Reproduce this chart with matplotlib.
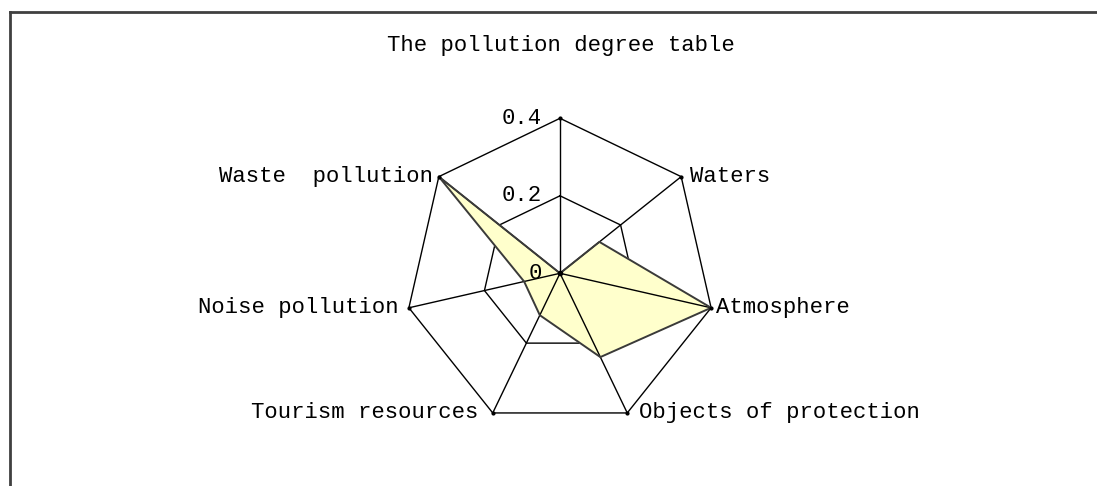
import numpy as np
import matplotlib
matplotlib.use("Agg")
import matplotlib.pyplot as plt
from matplotlib.lines import Line2D

# data (clockwise from the top axis)
categories = ["", "Waters", "Atmosphere", "Objects of protection",
              "Tourism resources", "Noise pollution", "Waste  pollution"]
values = [0.0, 0.13, 0.40, 0.24, 0.12, 0.095, 0.40]
ring_levels = [0.2, 0.4]
tick_values = [0, 0.2, 0.4]
tick_labels = ["0", "0.2", "0.4"]
title = "The pollution degree table"

plt.rcParams['font.family'] = ['Liberation Mono', 'DejaVu Sans Mono']
FS = 16

W, H = 1097, 486
cx, cy = 560, 273.3      # centre of the radar, px from top-left
R = 155.0                # px for the outer ring (0.4)
s = 0.4 / R

fig = plt.figure(figsize=(W / 100, H / 100), dpi=100)
ax = fig.add_axes([0, 0, 1, 1])
ax.set_xlim(-cx * s, (W - cx) * s)
ax.set_ylim(-(H - cy) * s, cy * s)
ax.axis('off')

n = len(categories)
ang = np.pi / 2 - 2 * np.pi * np.arange(n) / n
ux, uy = np.cos(ang), np.sin(ang)
closed = list(range(n)) + [0]

# inner ring sits under the fill, outer ring and spokes above it
inner, outer = ring_levels
ax.plot(inner * ux[closed], inner * uy[closed], color='black', lw=1, zorder=1)

v = np.array(values)
ax.fill(v * ux, v * uy, color='#FFFFCC', zorder=2)

for i in range(n):
    ax.plot([0, outer * ux[i]], [0, outer * uy[i]], color='black', lw=1, zorder=3)
ax.plot(outer * ux[closed], outer * uy[closed], color='black', lw=1, zorder=3)

ax.plot(v[closed] * ux[closed], v[closed] * uy[closed], color='#3a3a3a', lw=1.4, zorder=4)
ax.plot(outer * ux, outer * uy, 'o', color='black', ms=2, zorder=5)
ax.plot([0], [0], 'o', color='black', ms=3, zorder=5)

# category labels
offsets = [(0, 8), (9, 0), (5, 0), (12, 0), (-14, 0), (-10, 0), (-6, 0)]
for i, lab in enumerate(categories):
    dx, dy = offsets[i]
    ha = 'left' if dx > 0 else ('right' if dx < 0 else 'center')
    ax.annotate(lab, (outer * ux[i], outer * uy[i]), xytext=(dx, dy),
                textcoords='offset pixels', ha=ha, va='center', fontsize=FS)

# value ticks along the top axis
for tv, tl in zip(tick_values, tick_labels):
    ax.annotate(tl, (0, tv), xytext=(-18, 0), textcoords='offset pixels',
                ha='right', va='center', fontsize=FS)

fig.text(561 / W, 1 - 45 / H, title, ha='center', va='center', fontsize=FS)

# chart-area border (left and top edges visible)
fig.add_artist(Line2D([10 / W, 10 / W], [0, 1 - 12 / H], transform=fig.transFigure,
                      color='#404040', lw=2))
fig.add_artist(Line2D([10 / W, 1], [1 - 12 / H, 1 - 12 / H], transform=fig.transFigure,
                      color='#404040', lw=2))

fig.savefig("out.png", dpi=100)
